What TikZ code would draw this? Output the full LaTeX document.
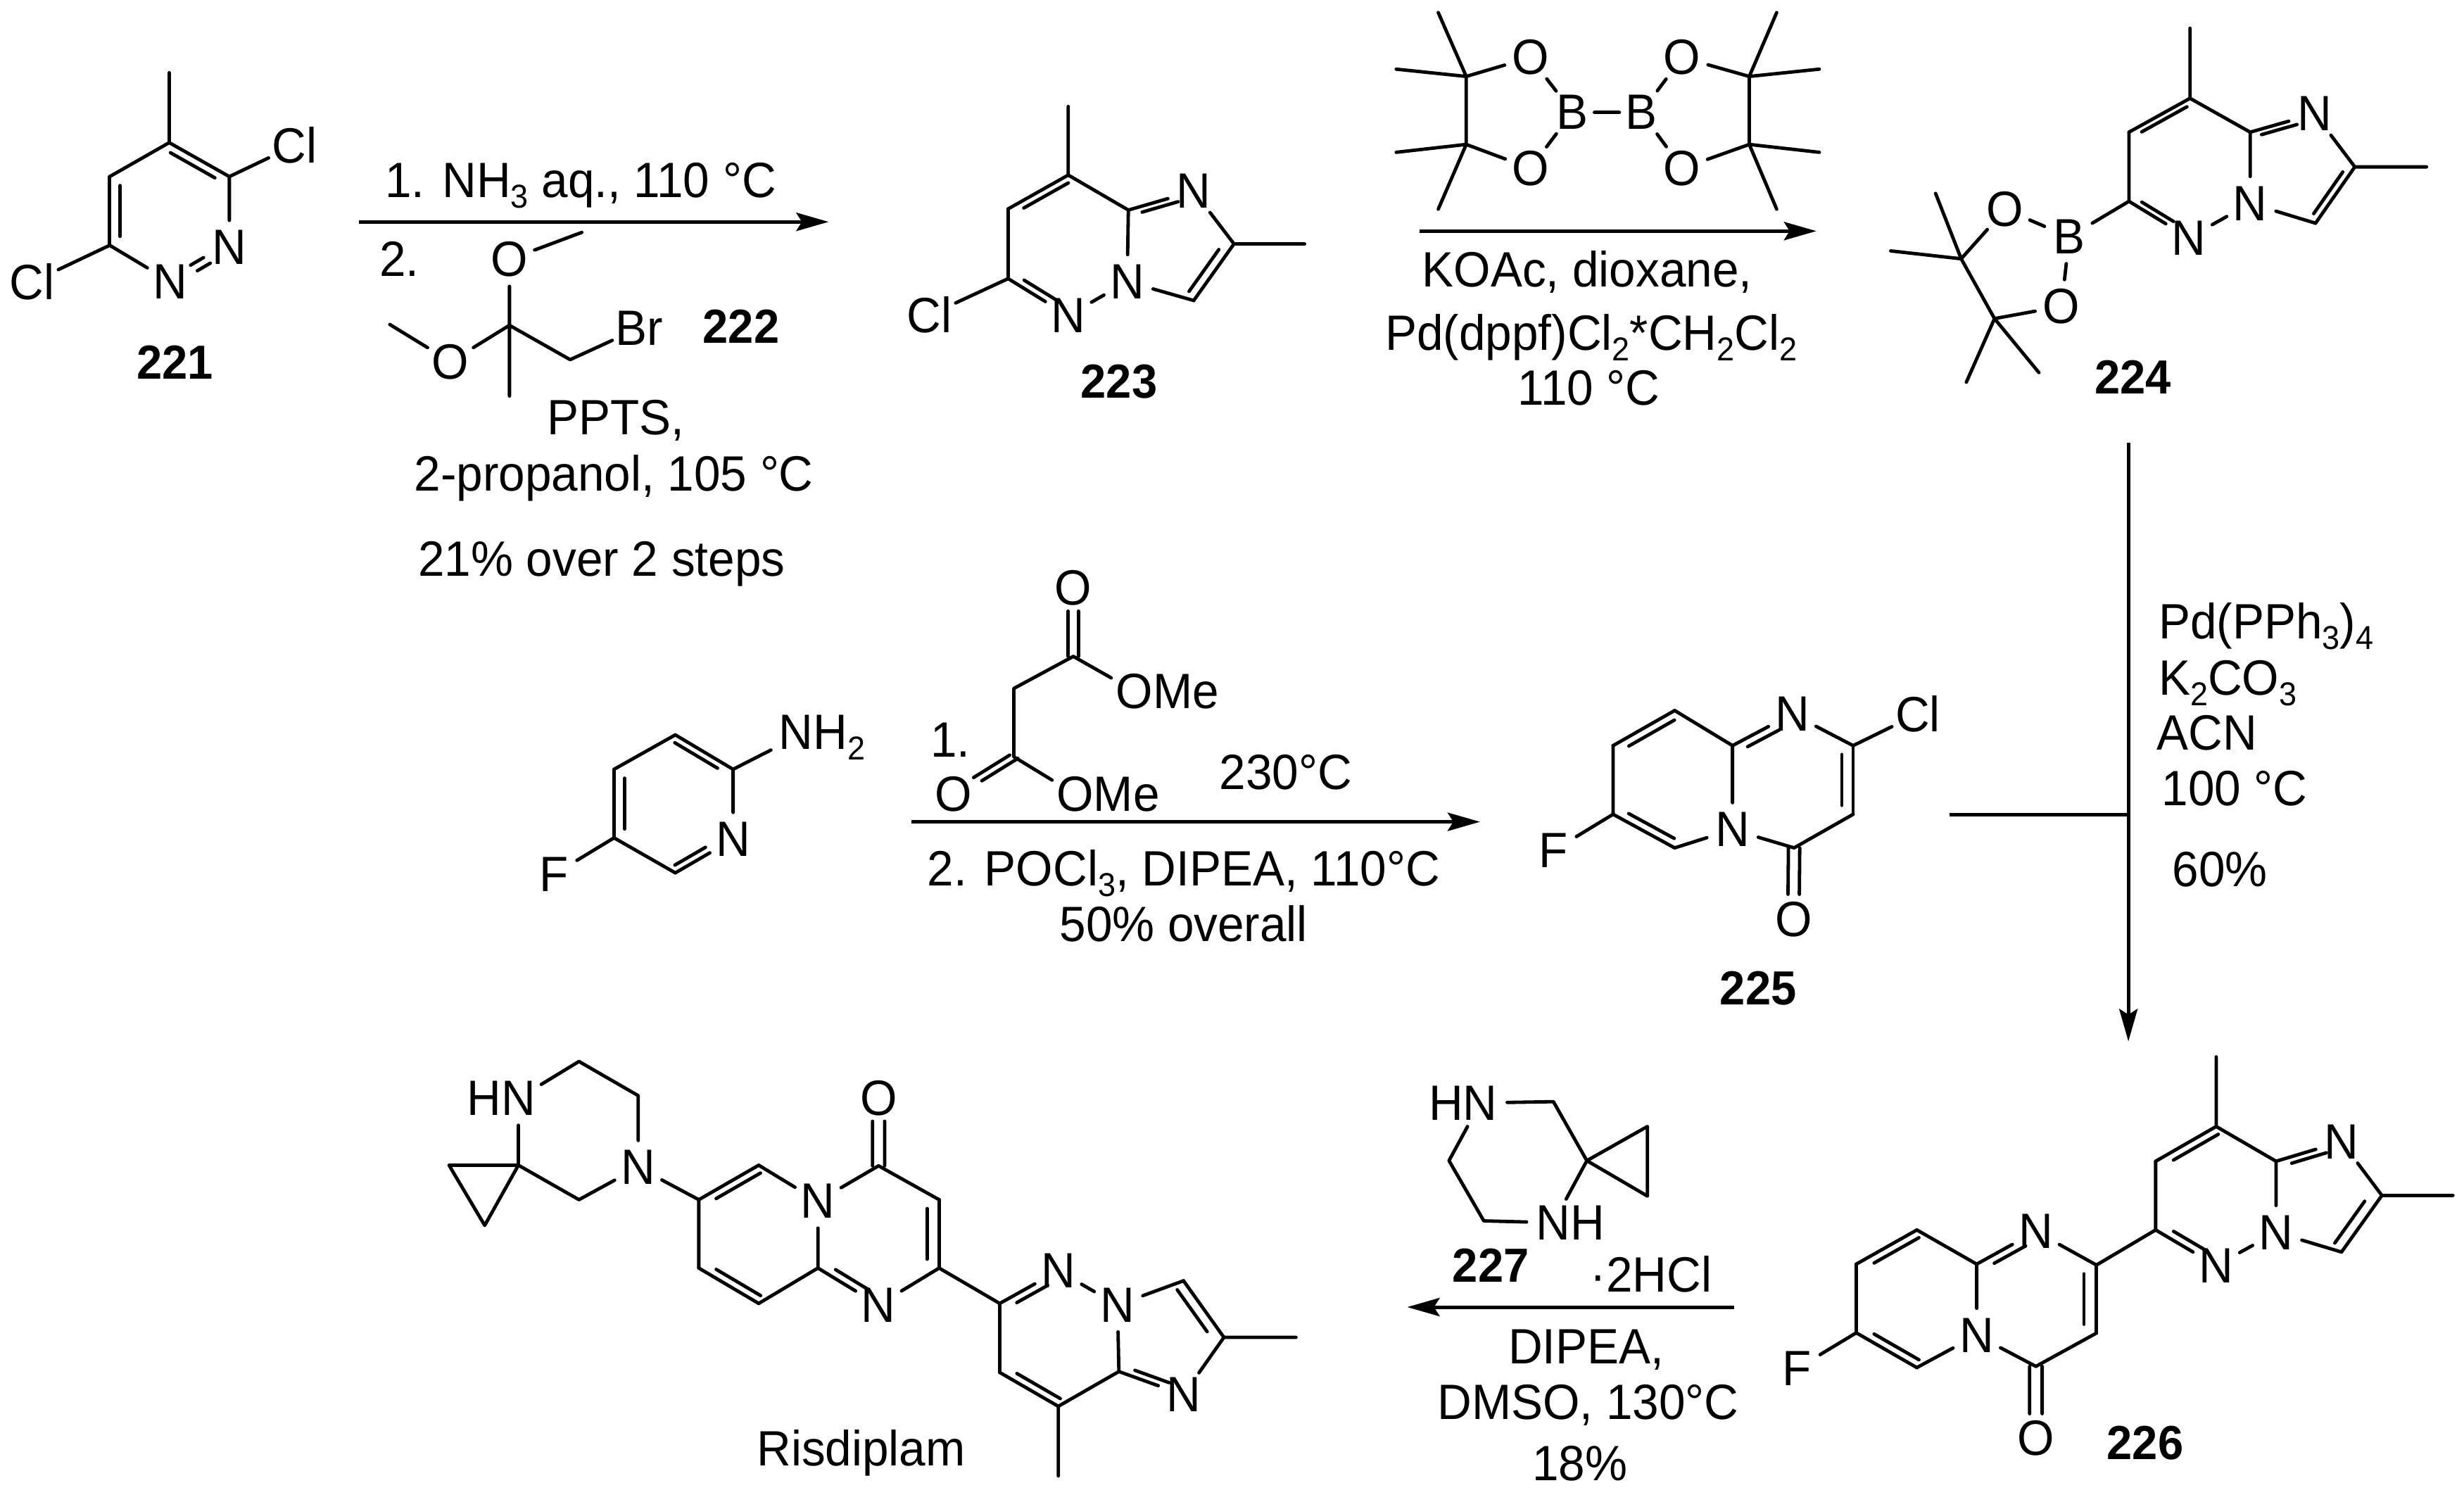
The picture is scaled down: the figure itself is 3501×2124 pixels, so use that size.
\documentclass[tikz,border=0pt]{standalone}
\usepackage{fontspec}
\setmainfont[FakeStretch=.957]{Liberation Sans}
\usetikzlibrary{calc,arrows.meta}
\newcommand\cc[2]{\coordinate (#1) at (#2);}
\newcommand\atm[3]{\node[atom] (#1) at (#2) {#3};}
\newcommand\sbs[1]{\raisebox{-15pt}{\fontsize{47}{50}\selectfont #1}}
% ring double bond: main line + inner line on the left of a->b (page sense)
\newcommand\dbl[4]{\draw[bond] (#1) -- (#2);
  \draw[bond] ($(#1)!#3!(#2)!18pt!90:(#2)$) -- ($(#1)!#4!(#2)!18pt!90:(#2)$);}
% symmetric double bond
\newcommand\symd[4]{%
  \draw[bond] ($(#1)!#3!(#2)!9pt!90:(#2)$) -- ($(#1)!#4!(#2)!9pt!90:(#2)$);
  \draw[bond] ($(#1)!#3!(#2)!-9pt!90:(#2)$) -- ($(#1)!#4!(#2)!-9pt!90:(#2)$);}
\tikzset{
  atom/.style={circle,inner sep=0pt,minimum size=76pt,font=\fontsize{70.5}{72}\selectfont},
  bond/.style={line width=4.8pt,line cap=round,line join=round},
  rxn/.style={line width=5pt,-{Stealth[length=46pt,width=26pt,inset=8pt]}},
  txt/.style={inner sep=0pt,anchor=base,font=\fontsize{70.5}{72}\selectfont},
  txl/.style={inner sep=0pt,anchor=base west,font=\fontsize{70.5}{72}\selectfont},
  cmp/.style={inner sep=0pt,anchor=base,font=\fontsize{68}{72}\selectfont\bfseries},
  zA/.style={shift={(0,0)},xscale=.8292,yscale=.5741},
  zB/.style={shift={(1250,0)},xscale=.8292,yscale=.4145},
  zC/.style={shift={(2550,0)},xscale=.6065,yscale=.4145},
  zD/.style={shift={(700,780)},xscale=.8292,yscale=.4145},
  zE/.style={shift={(2100,650)},xscale=.8929,yscale=.5421},
  zF/.style={shift={(550,1450)},xscale=.9566,yscale=.4298},
  zG/.style={shift={(1950,1450)},xscale=.9892,yscale=.4298},
}
\begin{document}
\begin{tikzpicture}[x=1pt,y=-1pt]
\useasboundingbox (0,0) rectangle (3501,2124);
\fill[white] (0,0) rectangle (3501,2124);
% ---------- 221, 222, first arrow
\begin{scope}[zA]
\cc{a4}{290,353}\cc{aMe}{290,180}\cc{a3}{393,437}\cc{a5}{188,437}\cc{a6}{188,607}
\atm{a2}{393,612}{N}\atm{a1}{292,697}{N}\atm{aCl}{505,360}{Cl}\atm{aCm}{55,698}{Cl}
\draw[bond] (aMe)--(a4) (a3)--(a2) (a3)--(aCl) (a4)--(a5) (a6)--(a1) (a6)--(aCm);
\dbl{a3}{a4}{.13}{.87}\dbl{a5}{a6}{.13}{.87}
\symd{a1}{a2}{.40}{.62}
\node[cmp] (t221) at (300,938) {221};
\cc{ar1s}{615,549}\cc{ar1e}{1420,549}
\draw[rxn] (ar1s)--(ar1e);
\node[txt] (t1) at (995,488) {1. NH\sbs{3} aq., 110 °C};
\node[txl] (t2) at (650,683) {2.};
\atm{bOt}{873,642}{O}\atm{bOl}{772,895}{O}\atm{bBr}{1095,812}{Br}
\cc{bC}{873,805}\cc{bMt}{997,575}\cc{bMl}{668,803}\cc{bCH}{977,890}\cc{bMd}{873,980}
\draw[bond] (bMt)--(bOt) (bOt)--(bC) (bMl)--(bOl) (bOl)--(bC) (bC)--(bCH)--(bBr) (bC)--(bMd);
\node[cmp] (t222) at (1270,850) {222};
\node[txt] (t3) at (1055,1075) {PPTS,};
\node[txt] (t4) at (1052,1215) {2-propanol, 105 °C};
\node[txt] (t5) at (1031,1425) {21\% over 2 steps};
\end{scope}
% ---------- 223, B2pin2, second arrow
\begin{scope}[zB]
\cc{cMe}{323,365}\cc{c8}{323,600}\cc{c7}{220,716}\cc{c6}{220,955}\cc{c8a}{426,720}\cc{c2}{607,836}\cc{c3}{538,1030}\cc{cMr}{728,836}
\atm{cN5}{323,1082}{N}\atm{cN4}{424,965}{N}\atm{cNt}{538,655}{N}\atm{cCl}{85,1080}{Cl}
\draw[bond] (cMe)--(c8) (c7)--(c6) (c6)--(cCl) (cN5)--(cN4) (cN4)--(c8a) (c8a)--(c8) (cNt)--(c2) (c2)--(cMr) (c3)--(cN4);
\dbl{c8}{c7}{.13}{.87}\dbl{c6}{cN5}{.13}{.66}\dbl{c3}{c2}{.13}{.87}\dbl{cNt}{c8a}{.32}{.87}
\node[cmp] (t223) at (410,1365) {223};
\cc{d1}{1005,262}\cc{d2}{1005,495}\cc{d3}{1490,262}\cc{d4}{1490,495}
\atm{dO1}{1115,197}{O}\atm{dO2}{1115,577}{O}\atm{dO3}{1375,197}{O}\atm{dO4}{1375,577}{O}
\atm{dB1}{1187,385}{B}\atm{dB2}{1305,385}{B}
\cc{dm1}{957,43}\cc{dm2}{885,237}\cc{dm3}{885,522}\cc{dm4}{957,717}\cc{dm5}{1537,43}\cc{dm6}{1610,237}\cc{dm7}{1610,522}\cc{dm8}{1537,717}
\draw[bond] (d1)--(d2) (d3)--(d4) (d1)--(dO1) (d2)--(dO2) (d3)--(dO3) (d4)--(dO4)
  (dO1)--(dB1) (dO2)--(dB1) (dO3)--(dB2) (dO4)--(dB2)
  (d1)--(dm1) (d1)--(dm2) (d2)--(dm3) (d2)--(dm4) (d3)--(dm5) (d3)--(dm6) (d4)--(dm7) (d4)--(dm8);
\draw[bond,shorten <=-7pt,shorten >=-7pt] (dB1)--(dB2);
\cc{ar2s}{925,792}\cc{ar2e}{1605,792}
\draw[rxn] (ar2s)--(ar2e);
\node[txt] (t6) at (1212,983) {KOAc, dioxane,};
\node[txt] (t7) at (1219,1200) {Pd(dppf)Cl\sbs{2}*CH\sbs{2}Cl\sbs{2}};
\node[txt] (t8) at (1215,1388) {110 °C};
\end{scope}
% ---------- 224
\begin{scope}[zC]
\cc{eMe}{926,97}\cc{e8}{926,337}\cc{e7}{783,453}\cc{e6}{783,690}\cc{e8a}{1067,453}\cc{e2}{1312,572}\cc{e3}{1220,765}\cc{eMr}{1480,572}
\atm{eN5}{923,815}{N}\atm{eN4}{1067,697}{N}\atm{eNt}{1218,390}{N}
\atm{eB}{643,812}{B}\atm{eO1}{493,718}{O}\atm{eO2}{625,1050}{O}
\cc{eC1}{390,887}\cc{eC2}{468,1092}\cc{em1}{330,663}\cc{em2}{225,860}\cc{em3}{402,1310}\cc{em4}{572,1277}
\draw[bond] (eMe)--(e8) (e7)--(e6) (e6)--(eB) (eB)--(eO1) (eB)--(eO2) (eO1)--(eC1) (eO2)--(eC2) (eC1)--(eC2)
  (eC1)--(em1) (eC1)--(em2) (eC2)--(em3) (eC2)--(em4)
  (eN5)--(eN4) (eN4)--(e8a) (e8a)--(e8) (eNt)--(e2) (e2)--(eMr) (e3)--(eN4);
\dbl{e8}{e7}{.13}{.87}\dbl{e6}{eN5}{.13}{.66}\dbl{e3}{e2}{.13}{.87}\dbl{eNt}{e8a}{.32}{.87}
\node[cmp] (t224) at (792,1350) {224};
\end{scope}
% ---------- aminopyridine, malonate, third arrow
\begin{scope}[zD]
\cc{f3}{313,637}\cc{f2}{412,755}\cc{f4}{208,755}\cc{f5}{208,990}\cc{f6}{313,1110}
\atm{fN}{412,995}{N}\atm{fA}{520,645}{N\rlap{H\sbs{2}}}\atm{fF}{105,1115}{F}
\draw[bond] (f2)--(fA) (f2)--(fN) (f3)--(f4) (f5)--(fF);
\dbl{f4}{f5}{.13}{.87}\dbl{f6}{fN}{.13}{.66}\dbl{f2}{f3}{.13}{.87}
\draw[bond] (f5)--(f6);
\cc{g1}{995,368}\cc{g2}{893,478}\cc{g3}{893,712}
\atm{gO1}{995,133}{O}\atm{gO2}{790,840}{O}\atm{gA}{1100,487}{O\rlap{Me}}\atm{gB}{998,840}{O\rlap{Me}}
\draw[bond] (g1)--(g2)--(g3) (g1)--(gA) (g3)--(gB);
\symd{g1}{gO1}{0}{.66}\symd{g3}{gO2}{0}{.6}
\node[txl] (t9) at (750,713) {1.};
\node[txl] (t10) at (1245,825) {230°C};
\cc{ar3s}{718,935}\cc{ar3e}{1692,935}
\draw[rxn] (ar3s)--(ar3e);
\node[txt] (t11) at (1184,1155) {2. POCl\sbs{3}, DIPEA, 110°C};
\node[txt] (t12) at (1184,1345) {50\% overall};
\end{scope}
% ---------- 225, vertical arrow
\begin{scope}[zE]
\cc{h8}{313,663}\cc{h7}{215,755}\cc{h6}{215,935}\cc{h5}{313,1023}\cc{h8a}{405,755}\cc{h2}{597,755}\cc{h3}{597,935}\cc{h4}{503,1023}
\atm{hN}{405,975}{N}\atm{hNt}{500,672}{N}\atm{hCl}{700,672}{Cl}\atm{hO}{502,1210}{O}\atm{hF}{120,1030}{F}
\draw[bond] (h8)--(h8a) (h7)--(h6) (h5)--(hN) (hN)--(h8a) (hNt)--(h2) (h2)--(hCl) (h3)--(h4) (h4)--(hN) (h6)--(hF);
\dbl{h8}{h7}{.13}{.87}\dbl{h6}{h5}{.13}{.87}\dbl{h3}{h2}{.13}{.87}\dbl{hNt}{h8a}{.34}{.87}
\symd{h4}{hO}{0}{.65}
\node[cmp] (t225) at (446,1435) {225};
\cc{v1}{1035,-39}\cc{v2}{1035,937}\cc{v3}{1035,1530}\cc{v4}{750,937}
\draw[rxn] (v1)--(v3);
\draw[rxn,-] (v4)--(v2);
\node[txl] (t13) at (1083,475) {Pd(PPh\sbs{3})\sbs{4}};
\node[txl] (t14) at (1083,622) {K\sbs{2}CO\sbs{3}};
\node[txl] (t15) at (1080,767) {ACN};
\node[txl] (t16) at (1088,912) {100 °C};
\node[txl] (t17) at (1105,1125) {60\%};
\end{scope}
% ---------- Risdiplam
\begin{scope}[zF]
\atm{kHN}{195,257}{\llap{H}N}\atm{kNp}{373,485}{N}
\cc{kp1}{285,135}\cc{kp2}{373,248}\cc{kp3}{285,592}\cc{ks}{195,478}\cc{kq1}{92,478}\cc{kq2}{145,677}
\draw[bond] (kHN)--(kp1)--(kp2)--(kNp) (kNp)--(kp3)--(ks)--(kHN) (ks)--(kq1)--(kq2)--(ks);
\cc{kC7}{463,592}\cc{kC6}{552,478}\cc{kC4}{730,480}\cc{kC3}{820,592}\cc{kC2}{820,818}\cc{kC8a}{640,818}\cc{kC9}{552,935}\cc{kC8}{463,818}
\atm{kN}{640,597}{N}\atm{kNb}{730,940}{N}\atm{kO}{730,257}{O}
\draw[bond] (kNp)--(kC7) (kC6)--(kN) (kN)--(kC4) (kC4)--(kC3) (kC2)--(kNb) (kC8a)--(kN) (kC9)--(kC8a) (kC7)--(kC8);
\dbl{kC6}{kC7}{.13}{.87}\dbl{kC8}{kC9}{.13}{.87}\dbl{kC8a}{kNb}{.13}{.66}\dbl{kC2}{kC3}{.13}{.87}
\symd{kC4}{kO}{0}{.66}
\cc{m6}{910,935}\cc{m7}{910,1163}\cc{m8}{997,1275}\cc{m8a}{1087,1160}\cc{m2}{1243,1047}\cc{m3}{1183,860}\cc{mMd}{997,1505}\cc{mMr}{1350,1047}
\atm{mN5}{997,827}{N}\atm{mN4}{1085,940}{N}\atm{mNb}{1183,1237}{N}
\draw[bond] (kC2)--(m6) (m6)--(m7) (m8)--(m8a) (m8a)--(mN4) (mN4)--(mN5) (mN4)--(m3) (m2)--(mNb) (m2)--(mMr) (m8)--(mMd);
\dbl{mN5}{m6}{.34}{.87}\dbl{m7}{m8}{.13}{.87}\dbl{m8a}{mNb}{.13}{.66}\dbl{m2}{m3}{.13}{.87}
\node[txt] (t18) at (704,1472) {Risdiplam};
\end{scope}
% ---------- 226, 227, last arrow
\begin{scope}[zG]
\atm{jHN}{155,272}{\llap{H}N}\atm{jNH}{260,668}{N\rlap{H}}
\cc{j1}{260,268}\cc{js}{308,463}\cc{jq1}{395,350}\cc{jq2}{395,580}\cc{j2}{160,662}\cc{j3}{110,463}
\draw[bond] (jHN)--(j1)--(js)--(jNH)--(j2)--(j3)--(jHN) (js)--(jq1)--(jq2)--(js);
\node[cmp] (t227) at (170,865) {227};
\node[txl] (t19) at (313,898) {·2HCl};
\cc{ar4s}{520,947}\cc{ar4e}{50,947}
\draw[rxn] (ar4s)--(ar4e);
\node[txt] (t20) at (307,1135) {DIPEA,};
\node[txt] (t21) at (310,1318) {DMSO, 130°C};
\node[txt] (t22) at (298,1520) {18\%};
\cc{i8}{782,692}\cc{i7}{695,805}\cc{i6}{695,1032}\cc{i5}{782,1147}\cc{i8a}{868,805}\cc{i2}{1040,808}\cc{i3}{1040,1033}\cc{i4}{953,1143}
\atm{iN}{868,1040}{N}\atm{iNt}{953,697}{N}\atm{iF}{610,1150}{F}\atm{iO}{953,1380}{O}
\draw[bond] (i8)--(i8a) (i7)--(i6) (i5)--(iN) (iN)--(i8a) (iNt)--(i2) (i3)--(i4) (i4)--(iN) (i6)--(iF);
\dbl{i8}{i7}{.13}{.87}\dbl{i6}{i5}{.13}{.87}\dbl{i3}{i2}{.13}{.87}\dbl{iNt}{i8a}{.34}{.87}
\symd{i4}{iO}{0}{.66}
\node[cmp] (t226) at (1110,1450) {226};
\cc{l6}{1125,692}\cc{l7}{1125,465}\cc{l8}{1212,350}\cc{l8a}{1298,465}\cc{lMe}{1212,120}\cc{l3}{1392,765}\cc{l2}{1450,578}\cc{lMr}{1552,578}
\atm{lN5}{1212,810}{N}\atm{lN4}{1298,700}{N}\atm{lNt}{1392,400}{N}
\draw[bond] (i2)--(l6) (l7)--(l6) (l8)--(l8a) (l8)--(lMe) (l8a)--(lN4) (lN5)--(lN4) (l3)--(lN4) (lNt)--(l2) (l2)--(lMr);
\dbl{l8}{l7}{.13}{.87}\dbl{l6}{lN5}{.13}{.66}\dbl{l3}{l2}{.13}{.87}\dbl{lNt}{l8a}{.34}{.87}
\end{scope}
\end{tikzpicture}
\end{document}
